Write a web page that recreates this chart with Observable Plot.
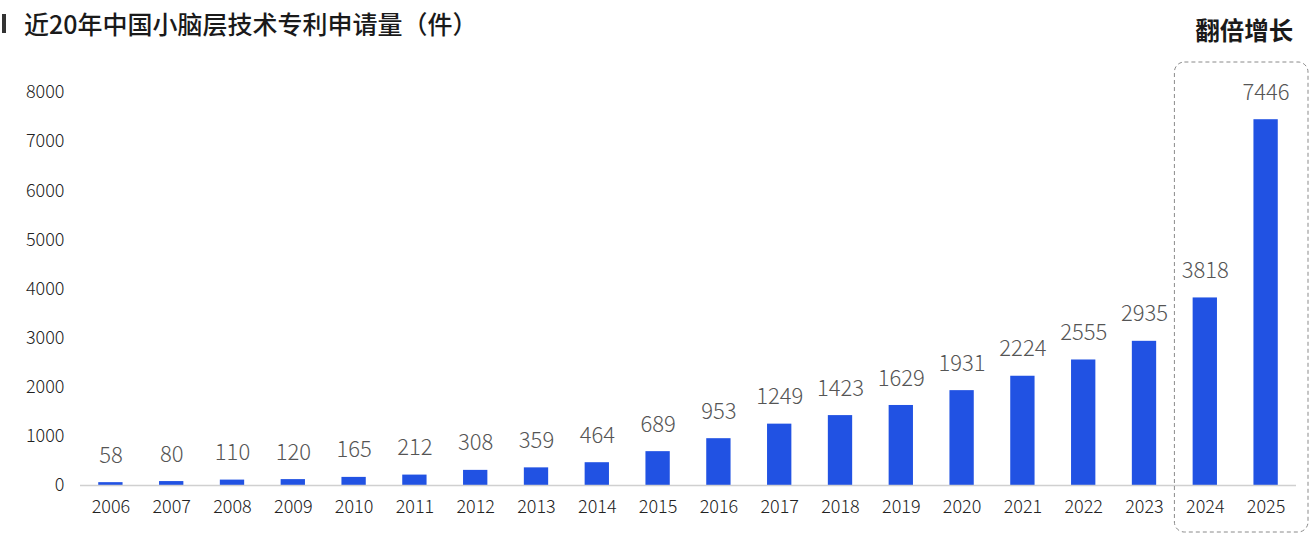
<!DOCTYPE html>
<html>
<head>
<meta charset="utf-8">
<script src="https://cdn.jsdelivr.net/npm/d3@7"></script>
<script src="https://cdn.jsdelivr.net/npm/@observablehq/plot@0.6"></script>
<style>
  html, body { margin: 0; padding: 0; background: #fff; }
  #wrap { position: relative; width: 1315px; height: 535px; overflow: hidden; font-family: "Noto Sans CJK SC", "Noto Sans", sans-serif; }
  #title { position: absolute; left: 0; top: 5px; display: flex; align-items: center; font-size: 25px; font-weight: 500; color: #1a1a1a; z-index: 2; }
  #title .mark { display: inline-block; width: 4px; height: 19px; background: #333; margin-left: 2px; margin-right: 18px; }
  #chart svg { overflow: visible; }
</style>
</head>
<body>
<div id="wrap">
  <div id="title"><span class="mark"></span><span>近20年中国小脑层技术专利申请量（件）</span></div>
  <div id="chart"></div>
</div>
<script>
const years = ["2006","2007","2008","2009","2010","2011","2012","2013","2014","2015","2016","2017","2018","2019","2020","2021","2022","2023","2024","2025"];
const counts = [58,80,110,120,165,212,308,359,464,689,953,1249,1423,1629,1931,2224,2555,2935,3818,7446];
const yTicks = [0,1000,2000,3000,4000,5000,6000,7000,8000];
const highlightYears = ["2024","2025"];
const highlightLabel = "翻倍增长";

const data = years.map((y, i) => ({year: y, value: counts[i]}));
const barColor = "#2152e3";
const font = "'Noto Sans CJK SC', 'Noto Sans', sans-serif";

const plot = Plot.plot({
  width: 1315,
  height: 535,
  marginLeft: 80,
  marginRight: 19,
  marginTop: 92,
  marginBottom: 50,
  style: {fontFamily: font, background: "transparent", color: "#222"},
  x: {domain: years, paddingInner: 0.6, paddingOuter: 0.3, round: false, label: null},
  y: {domain: [0, 8000], label: null},
  marks: [
    Plot.barY(data, {x: "year", y: "value", fill: barColor}),
    Plot.ruleY([0], {stroke: "#d0d0d0", strokeWidth: 1.5}),
    Plot.text(data, {x: "year", y: "value", text: d => String(d.value), dy: -27, fontSize: 22, fill: "#555", fontWeight: 300}),
    Plot.axisY({ticks: yTicks, tickSize: 0, tickPadding: 16, fontSize: 18, fontWeight: 300, tickFormat: d => String(d), color: "#222"}),
    Plot.axisX({tickSize: 0, tickPadding: 15, fontSize: 18, fontWeight: 300, color: "#222"})
  ]
});
document.getElementById("chart").appendChild(plot);

// Annotation box around highlighted years, positioned from the plot's scales
const xs = plot.scale("x");
const ys = plot.scale("y");
const svgSel = d3.select(plot);
const step = xs.step, bw = xs.bandwidth;
const boxLeft = xs.apply(highlightYears[0]) - (step - bw) / 2;
const boxRight = xs.apply(highlightYears[highlightYears.length - 1]) + bw + (step - bw) / 2 + 12;
const boxTop = ys.apply(8000) - 30;
const boxBottom = 532;
svgSel.append("rect")
  .attr("x", boxLeft).attr("y", boxTop)
  .attr("width", boxRight - boxLeft).attr("height", boxBottom - boxTop)
  .attr("rx", 10).attr("ry", 10)
  .attr("fill", "none").attr("stroke", "#8a8a8a")
  .attr("stroke-width", 1).attr("stroke-dasharray", "4,3");
svgSel.append("text")
  .attr("x", (boxLeft + boxRight) / 2 + 3).attr("y", 29)
  .attr("text-anchor", "middle").attr("dominant-baseline", "central")
  .attr("font-size", 24.5).attr("font-weight", 700)
  .attr("font-family", font).attr("fill", "#1a1a1a")
  .text(highlightLabel);
</script>
</body>
</html>
